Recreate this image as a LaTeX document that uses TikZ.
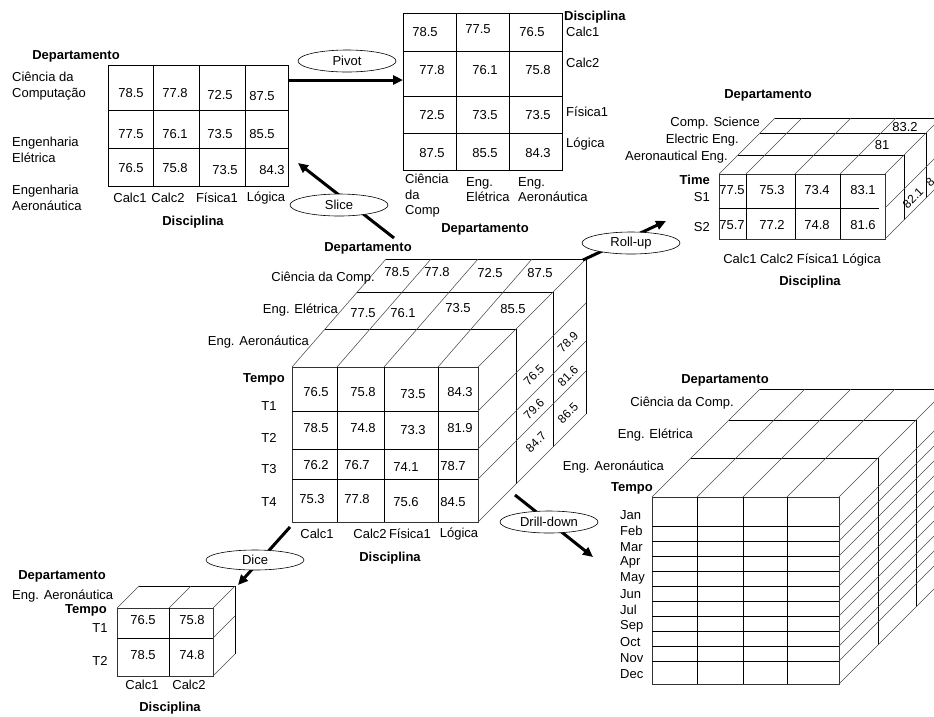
\documentclass[tikz,border=0pt]{standalone}
\usepackage{fontspec}
\setmainfont{Liberation Sans}
\usetikzlibrary{arrows.meta,shapes.geometric}

\begin{document}
\begin{tikzpicture}[
  x=1pt, y=-1pt,
  font=\fontsize{13}{15.5}\selectfont,
  cell/.style={draw=black, line width=0.75pt},
  rim/.style={draw=black!80, line width=0.9pt},
  slant/.style={draw=black!70, line width=0.55pt},
  val/.style={inner sep=0pt},
  sideval/.style={inner sep=0pt, rotate=45, font=\fontsize{12}{14}\selectfont},
  axis/.style={inner sep=0pt, font=\fontsize{13}{15.5}\selectfont\bfseries},
  tag/.style={inner sep=0pt, align=left},
  opname/.style={ellipse, draw, fill=white, line width=0.6pt,
                 minimum width=98pt, minimum height=22pt, inner sep=0pt},
  oparrow/.style={line width=3pt, -{Triangle[length=10pt, width=9pt]}}
]
  \useasboundingbox (0,0) rectangle (934,716);
  \clip (0,0) rectangle (934,716);

  \draw[cell] (108,65) rectangle (288,186);
  \foreach \x in {153,199,245} \draw[cell] (\x,65) -- (\x,186);
  \foreach \y in {110,148} \draw[cell] (108,\y) -- (288,\y);
  \foreach \x/\y/\v [count=\i] in {131/93/78.5, 175/93/77.8, 220/95/72.5, 262/96/87.5,
      131/134/77.5, 175/134/76.1, 220/134/73.5, 262/134/85.5,
      131/168/76.5, 175/168/75.8, 225/170/73.5, 272/170/84.3}
    \node[val] (sv\i) at (\x,\y) {\v};
  \node[axis] (sdep) at (76,56) {Departamento};
  \node[tag, anchor=west] (scc) at (12,86) {Ciência da\\Computação};
  \node[tag, anchor=west] (see) at (12,150) {Engenharia\\Elétrica};
  \node[tag, anchor=west] (sea) at (12,198) {Engenharia\\Aeronáutica};
  \foreach \x/\v [count=\i] in {130/Calc1, 168/Calc2, 217/Física1, 266/Lógica}
    \node[val] (sc\i) at (\x,198) {\v};
  \node[axis] (sdis) at (193,222) {Disciplina};

  \draw[cell] (403,13) rectangle (562,170);
  \foreach \x in {456,509} \draw[cell] (\x,13) -- (\x,170);
  \foreach \y in {51,96,133} \draw[cell] (403,\y) -- (562,\y);
  \foreach \x/\y/\v [count=\i] in {425/32/78.5, 478/29/77.5, 532/32/76.5,
      432/70/77.8, 485/70/76.1, 538/70/75.8,
      432/115/72.5, 485/115/73.5, 538/115/73.5,
      432/153/87.5, 485/153/85.5, 538/153/84.3}
    \node[val] (pv\i) at (\x,\y) {\v};
  \node[axis, anchor=west] (pdis) at (564,17) {Disciplina};
  \foreach \y/\v [count=\i] in {32/Calc1, 63/Calc2, 112/Física1, 144/Lógica}
    \node[val, anchor=west] (pc\i) at (566,\y) {\v};
  \node[tag, anchor=north west] (pcc) at (405,174) {Ciência\\da\\Comp};
  \node[tag, anchor=north west] (pee) at (466,177) {Eng.\\Elétrica};
  \node[tag, anchor=north west] (pea) at (518,177) {Eng.\\Aeronáutica};
  \node[axis] (pdep) at (485,229) {Departamento};

  \draw[rim] (719,174) rectangle (885,239);
  \foreach \x in {746,795,840} \draw[cell] (\x,174) -- (\x,239);
  \draw[cell] (719,208) -- (879,208);
  \foreach \d in {19,41,56} \draw[cell] (719+\d,174-\d) -- (885+\d,174-\d);
  \foreach \x in {719,746,795,840,885} \draw[slant] (\x,174) -- ++(56,-56);
  \foreach \d in {19,41} \draw[cell] (885+\d,174-\d) -- (885+\d,239-\d);
  \foreach \y in {208,239} \draw[slant] (885,\y) -- ++(56,-56);
  \foreach \x/\y/\v [count=\i] in {732/190/77.5, 772/190/75.3, 817/190/73.4, 863/190/83.1,
      732/225/75.7, 772/225/77.2, 817/225/74.8, 863/225/81.6, 905/127/83.2, 882/145/81}
    \node[val] (rv\i) at (\x,\y) {\v};
  \node[sideval] (rs1) at (913,198) {82.1};
  \node[sideval] (rs2) at (930,182) {8};
  \node[axis] (rdep) at (768,95) {Departamento};
  \node[val, anchor=east] (rcs) at (760,123) {Comp. Science};
  \node[val, anchor=east] (ree) at (739,140) {Electric Eng.};
  \node[val, anchor=east] (rae) at (728,157) {Aeronautical Eng.};
  \node[axis, anchor=east] (rtime) at (710,180) {Time};
  \node[val, anchor=east] (rs1l) at (710,197) {S1};
  \node[val, anchor=east] (rs2l) at (710,227) {S2};
  \node[val] (rcal) at (802,260) {Calc1 Calc2 Física1 Lógica};
  \node[axis] (rdis) at (810,282) {Disciplina};

  \draw[rim] (292,367) rectangle (478,522);
  \foreach \x in {337,384,438} \draw[cell] (\x,367) -- (\x,522);
  \foreach \y in {411,449,479} \draw[cell] (292,\y) -- (478,\y);
  \foreach \d in {38,75,108} \draw[cell] (292+0.87*\d,367-\d) -- (478+\d,367-\d);
  \foreach \x in {292,337,384,438} \draw[slant] (\x,367) -- ++(94,-108);
  \draw[slant] (478,367) -- ++(108,-108);
  \foreach \d in {38,75,108} \draw[cell] (478+\d,367-\d) -- (478+\d,522-\d);
  \foreach \y in {411,449,479,522} \draw[slant] (478,\y) -- ++(108,-108);
  \foreach \x/\y/\v [count=\i] in {316/392/76.5, 363/392/75.8, 413/394/73.5, 460/392/84.3,
      316/428/78.5, 363/428/74.8, 413/430/73.3, 460/428/81.9,
      316/465/76.2, 357/465/76.7, 406/467/74.1, 453/466/78.7,
      312/499/75.3, 357/499/77.8, 406/502/75.6, 453/502/84.5,
      397/272/78.5, 437/272/77.8, 490/273/72.5, 540/273/87.5,
      363/313/77.5, 403/313/76.1, 458/308/73.5, 513/309/85.5}
    \node[val] (cv\i) at (\x,\y) {\v};
  \foreach \x/\y/\v [count=\i] in {534/375/76.5, 534/409/79.6, 536/442/84.7,
      568/342/78.9, 568/376/81.6, 568/413/86.5}
    \node[sideval] (cs\i) at (\x,\y) {\v};
  \node[axis] (cdep) at (368,248) {Departamento};
  \node[val, anchor=east] (ccc) at (375,278) {Ciência da Comp.};
  \node[val, anchor=east] (cee) at (338,310) {Eng. Elétrica};
  \node[val, anchor=east] (cea) at (309,342) {Eng. Aeronáutica};
  \node[axis, anchor=east] (ctemp) at (285,379) {Tempo};
  \foreach \y/\v [count=\i] in {406/T1, 438/T2, 469/T3, 502/T4}
    \node[val] (ct\i) at (269,\y) {\v};
  \foreach \x/\v [count=\i] in {317/Calc1, 370/Calc2, 410/Física1, 459/Lógica}
    \node[val] (cc\i) at (\x,534) {\v};
  \node[axis] (cdis) at (390,558) {Disciplina};

  \draw[rim] (652,497) rectangle (839,684);
  \foreach \x in {697,743,787} \draw[cell] (\x,497) -- (\x,684);
  \foreach \y in {526,541,...,661} \draw[cell] (652,\y) -- (839,\y);
  \foreach \d in {39,77,108} \draw[cell] (652+\d,497-\d) -- (839+\d,497-\d);
  \foreach \x in {652,697,743,787,839} \draw[slant] (\x,497) -- ++(108,-108);
  \foreach \d in {39,77,108} \draw[cell] (839+\d,497-\d) -- (839+\d,684-\d);
  \foreach \y in {526,541,...,661} \draw[slant] (839,\y) -- ++(108,-108);
  \draw[slant] (839,684) -- ++(108,-108);
  \node[axis] (ddep) at (725,380) {Departamento};
  \node[val, anchor=east] (dcc) at (734,403) {Ciência da Comp.};
  \node[val, anchor=east] (dee) at (693,435) {Eng. Elétrica};
  \node[val, anchor=east] (dea) at (664,467) {Eng. Aeronáutica};
  \node[axis, anchor=east] (dtemp) at (653,488) {Tempo};
  \foreach \m [count=\i] in {Jan,Feb,Mar,Apr,May,Jun,Jul,Sep,Oct,Nov,Dec}
    \node[val, anchor=west] (mo\i) at (620,499+15.9*\i) {\m};

  \draw[rim] (117,608) rectangle (213,676);
  \draw[cell] (169,608) -- (169,676);
  \draw[cell] (117,638) -- (213,638);
  \draw[cell] (139,586) -- (235,586) -- (235,654);
  \foreach \x in {117,169,213} \draw[slant] (\x,608) -- ++(22,-22);
  \foreach \y in {638,676} \draw[slant] (213,\y) -- ++(22,-22);
  \foreach \x/\y/\v [count=\i] in {143/620/76.5, 192/620/75.8, 143/655/78.5, 192/655/74.8}
    \node[val] (iv\i) at (\x,\y) {\v};
  \node[axis] (idep) at (62,576) {Departamento};
  \node[val, anchor=west] (iea) at (12,596) {Eng. Aeronáutica};
  \node[axis, anchor=east] (itemp) at (107,610) {Tempo};
  \node[val] (it1) at (100,628) {T1};
  \node[val] (it2) at (100,661) {T2};
  \node[val] (ic1) at (142,685) {Calc1};
  \node[val] (ic2) at (189,685) {Calc2};
  \node[axis] (idis) at (170,708) {Disciplina};

  \coordinate (tabR) at (288,80);
  \coordinate (pivL) at (403,80);
  \coordinate (cubeTL) at (394,238);
  \coordinate (tabB) at (298,163);
  \coordinate (cubeTR) at (583,260);
  \coordinate (rollL) at (666,221);
  \coordinate (cubeBL) at (290,527);
  \coordinate (diceT) at (238,585);
  \coordinate (cubeBR) at (515,495);
  \coordinate (drillL) at (593,557);
  \draw[oparrow] (tabR) -- (pivL);
  \draw[oparrow] (cubeTL) -- (tabB);
  \draw[oparrow] (cubeTR) -- (rollL);
  \draw[oparrow] (cubeBL) -- (diceT);
  \draw[oparrow] (cubeBR) -- (drillL);
  \node[opname] (pivot) at (347,61) {Pivot};
  \node[opname] (slice) at (339,205) {Slice};
  \node[opname] (rollup) at (631,243) {Roll-up};
  \node[opname, minimum height=20pt] (dice) at (255,560) {Dice};
  \node[opname] (drill) at (549,522) {Drill-down};
\end{tikzpicture}
\end{document}
